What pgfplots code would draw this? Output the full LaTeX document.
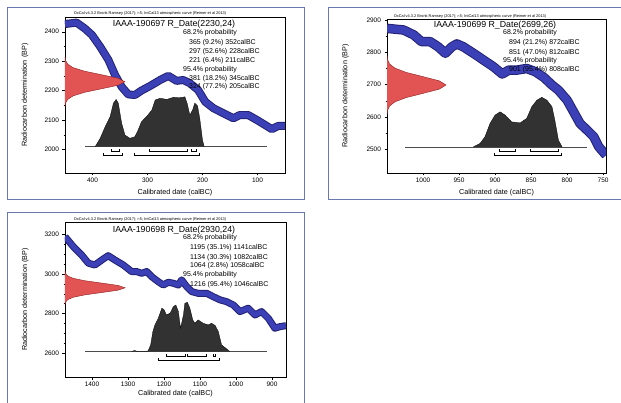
\documentclass[border=0pt]{standalone}
\usepackage{fontspec}
\setmainfont{Liberation Sans}
\usepackage{pgfplots}
\usepackage{pgfplotstable}
\pgfplotsset{compat=1.18}
\definecolor{bandblue}{RGB}{60,64,182}
\definecolor{bandedge}{RGB}{34,34,116}
\definecolor{redfill}{RGB}{226,84,84}
\definecolor{rededge}{RGB}{140,30,30}
\definecolor{postfill}{RGB}{50,50,50}
\definecolor{boxcol}{RGB}{105,120,175}
\newcommand{\tfont}{\fontsize{8.8}{10}\selectfont}
\newcommand{\pfont}{\fontsize{7}{8}\selectfont}
\newcommand{\hfont}{\fontsize{3.9}{4.5}\selectfont}

% ---------------- Panel 1 data ----------------
\pgfplotstableread{
x y
450 2426
429 2431
414 2411
401 2389
386 2349
371 2304
359 2253
347 2213
335 2187
323 2185
311 2200
295 2216
277 2236
262 2250
247 2233
235 2236
223 2225
208 2202
195 2162
180 2140
162 2123
144 2106
132 2117
117 2117
101 2100
86 2083
74 2069
62 2080
50 2080
}\curveA
\pgfplotstableread{
x y
450 2146
449.8 2146
448.8 2158
445.2 2170
435.3 2182
414.6 2194
383.9 2206
353.8 2218
341 2230
353.8 2242
383.9 2254
414.6 2266
435.3 2278
445.2 2290
448.8 2302
449.8 2314
450 2314
}\redA
\pgfplotstableread{
x y
395 2010
386 2038
377 2077
368 2111
362 2157
357 2170
353 2157
347 2089
341 2049
332 2038
323 2043
317 2066
311 2094
302 2111
292 2134
286 2168
277 2174
265 2170
253 2177
238 2176
232 2179
228 2157
223 2117
218 2134
214 2157
209 2148
205 2106
200 2032
197 2010
}\postA

% ---------------- Panel 2 data ----------------
\pgfplotstableread{
x y
1050 2874
1027 2869
1013 2854
1002 2833
990 2833
979 2817
969 2797
960 2817
953 2826
944 2817
930 2797
916 2776
902 2755
890 2733
881 2745
870 2745
856 2750
844 2740
832 2722
821 2699
812 2683
800 2652
791 2616
782 2580
772 2559
763 2539
756 2508
746 2482
}\curveB
\pgfplotstableread{
x y
1050 2608
1049.8 2608
1049.1 2621
1046.4 2634
1038.9 2647
1023.4 2660
1000.3 2673
977.6 2686
968 2699
977.6 2712
1000.3 2725
1023.4 2738
1038.9 2751
1046.4 2764
1049.1 2777
1049.8 2790
1050 2790
}\redB
\pgfplotstableread{
x y
930 2508
921 2518
914 2539
907 2580
900 2606
893 2616
886 2606
877 2585
865 2582
856 2596
849 2632
842 2652
835 2661
828 2652
821 2632
817 2590
812 2528
807 2508
}\postB

% ---------------- Panel 3 data ----------------
\pgfplotstableread{
x y
1475 3188
1452 3138
1429 3096
1410 3054
1392 3045
1373 3070
1355 3092
1336 3070
1313 3045
1290 3012
1276 3012
1262 3003
1248 3012
1234 2986
1216 2961
1202 2944
1188 2958
1174 2953
1160 2944
1151 2970
1137 2936
1123 2911
1105 2902
1081 2902
1063 2885
1044 2869
1026 2860
1007 2843
989 2810
966 2827
947 2793
929 2810
910 2776
892 2726
878 2734
861 2739
}\curveC
\pgfplotstableread{
x y
1475 2846
1474.6 2846
1473.2 2858
1467.7 2870
1452.4 2882
1420.8 2894
1373.7 2906
1327.6 2918
1308 2930
1327.6 2942
1373.7 2954
1420.8 2966
1452.4 2978
1467.7 2990
1473.2 3002
1474.6 3014
1475 3014
}\redC
\pgfplotstableread{
x y
1290 2608
1282 2614
1274 2609
1250 2609
1244 2612
1237 2642
1231 2709
1225 2743
1216 2776
1206 2827
1200 2820
1193 2793
1183 2802
1174 2835
1167 2843
1160 2810
1154 2726
1146 2793
1142 2852
1135 2857
1128 2827
1120 2768
1114 2751
1105 2768
1091 2751
1077 2743
1068 2751
1058 2740
1049 2709
1040 2642
1026 2622
1017 2608
}\postC

\pgfplotsset{
  oxcal/.style={
    scale only axis, anchor=south west, x dir=reverse,
    axis line style={line width=0.7pt},
    tick align=outside, xtick pos=left, ytick pos=left,
    major tick length=2.5pt, minor tick length=1.3pt,
    every tick/.style={black, line width=0.4pt},
    ticklabel style={font=\fontsize{6.5}{7}\selectfont},
    xticklabel style={yshift=1.5pt},
    /pgf/number format/assume math mode=true,
    /pgf/number format/1000 sep={},
    label style={font=\fontsize{7.2}{8}\selectfont},
    xlabel={Calibrated date (calBC)},
    ylabel={Radiocarbon determination (BP)},
  },
  bandout/.style={bandedge, line width=#1, line join=round, mark=none},
  bandin/.style={bandblue, line width=#1, line join=round, mark=none},
  redg/.style={fill=redfill, draw=rededge, line width=0.4pt, mark=none},
  post/.style={fill=postfill, draw=black, line width=0.3pt, mark=none},
  brk/.style={black, line width=0.5pt, mark=none},
  basel/.style={black!70, line width=0.4pt, mark=none},
}

\begin{document}
\begin{tikzpicture}[x=1pt,y=1pt]
\path[use as bounding box] (0,0) rectangle (621,402);
\draw[boxcol, line width=0.8pt] (7,203) rectangle (304,395);
\draw[boxcol, line width=0.8pt] (622,395) -- (328,395) -- (328,203) -- (622,203);
\draw[boxcol, line width=0.8pt] (7,-2) -- (7,190) -- (304,190) -- (304,-2);

% ================= Panel 1 =================
\begin{axis}[oxcal, at={(65pt,229pt)}, width=220pt, height=156pt,
  xmin=50, xmax=450, ymin=1920, ymax=2450,
  xtick={100,200,300,400}, ytick={2000,2100,2200,2300,2400},
  minor x tick num=4, minor y tick num=1,
  xlabel style={at={(axis description cs:0.5,-0.128)}, anchor=center},
  ylabel style={at={(axis description cs:-0.182,0.5)}, anchor=center},
]
\addplot[bandout=8pt] table {\curveA};
\addplot[bandin=6pt] table {\curveA};
\addplot[redg] table {\redA};
\addplot[basel] coordinates {(414,2010) (83,2010)};
\addplot[post] table {\postA};
\addplot[brk] coordinates {(365,2002) (365,1995) (352,1995) (352,2002)};
\addplot[brk] coordinates {(297,2002) (297,1995) (228,1995) (228,2002)};
\addplot[brk] coordinates {(221,2002) (221,1995) (211,1995) (211,2002)};
\addplot[brk] coordinates {(381,1988) (381,1981) (346,1981) (346,1988)};
\addplot[brk] coordinates {(324,1988) (324,1981) (205,1981) (205,1988)};
\end{axis}
\node[font=\hfont, anchor=south, inner sep=0pt] at (150,386) {OxCal v4.3.2 Bronk Ramsey (2017); r:5; IntCal13 atmospheric curve (Reimer et al 2013)};
\node[font=\tfont, inner sep=0pt] at (174,378) {IAAA-190697 R\_Date(2230,24)};
\node[font=\pfont, anchor=west, inner sep=0pt] at (183,369) {68.2\% probability};
\node[font=\pfont, anchor=west, inner sep=0pt] at (189,359.5) {365 (9.2\%) 352calBC};
\node[font=\pfont, anchor=west, inner sep=0pt] at (189,350.5) {297 (52.6\%) 228calBC};
\node[font=\pfont, anchor=west, inner sep=0pt] at (189,341) {221 (6.4\%) 211calBC};
\node[font=\pfont, anchor=west, inner sep=0pt] at (183,332.5) {95.4\% probability};
\node[font=\pfont, anchor=west, inner sep=0pt] at (189,323.5) {381 (18.2\%) 345calBC};
\node[font=\pfont, anchor=west, inner sep=0pt] at (189,315) {324 (77.2\%) 205calBC};

% ================= Panel 2 =================
\begin{axis}[oxcal, at={(387pt,229pt)}, width=219pt, height=154pt,
  xmin=746, xmax=1050, ymin=2427, ymax=2903,
  xtick={750,800,850,900,950,1000}, ytick={2500,2600,2700,2800,2900},
  minor x tick num=4, minor y tick num=1,
  xlabel style={at={(axis description cs:0.5,-0.13)}, anchor=center},
  ylabel style={at={(axis description cs:-0.19,0.5)}, anchor=center},
]
\addplot[bandout=9.5pt] table {\curveB};
\addplot[bandin=7.5pt] table {\curveB};
\addplot[redg] table {\redB};
\addplot[basel] coordinates {(1025,2508) (773,2508)};
\addplot[post] table {\postB};
\addplot[brk] coordinates {(894,2500) (894,2494) (872,2494) (872,2500)};
\addplot[brk] coordinates {(851,2500) (851,2494) (812,2494) (812,2500)};
\addplot[brk] coordinates {(901,2488) (901,2482) (808,2482) (808,2488)};
\end{axis}
\node[font=\hfont, anchor=south, inner sep=0pt] at (470,383) {OxCal v4.3.2 Bronk Ramsey (2017); r:5; IntCal13 atmospheric curve (Reimer et al 2013)};
\node[font=\tfont, inner sep=0pt] at (495,377) {IAAA-190699 R\_Date(2699,26)};
\node[font=\pfont, anchor=west, inner sep=0pt] at (503,369.3) {68.2\% probability};
\node[font=\pfont, anchor=west, inner sep=0pt] at (509,359.3) {894 (21.2\%) 872calBC};
\node[font=\pfont, anchor=west, inner sep=0pt] at (509,349.7) {851 (47.0\%) 812calBC};
\node[font=\pfont, anchor=west, inner sep=0pt] at (503,341) {95.4\% probability};
\node[font=\pfont, anchor=west, inner sep=0pt] at (509,332) {901 (95.4\%) 808calBC};

% ================= Panel 3 =================
\begin{axis}[oxcal, at={(65pt,25pt)}, width=221pt, height=155pt,
  xmin=861, xmax=1475, ymin=2480, ymax=3262,
  xtick={900,1000,1100,1200,1300,1400}, ytick={2600,2800,3000,3200},
  minor x tick num=4, minor y tick num=3,
  xlabel style={at={(axis description cs:0.5,-0.11)}, anchor=center},
  ylabel style={at={(axis description cs:-0.18,0.5)}, anchor=center},
]
\addplot[bandout=7pt] table {\curveC};
\addplot[bandin=5pt] table {\curveC};
\addplot[redg] table {\redC};
\addplot[basel] coordinates {(1419,2608) (915,2608)};
\addplot[post] table {\postC};
\addplot[brk] coordinates {(1195,2596) (1195,2586) (1141,2586) (1141,2596)};
\addplot[brk] coordinates {(1134,2596) (1134,2586) (1082,2586) (1082,2596)};
\addplot[brk] coordinates {(1064,2596) (1064,2586) (1058,2586) (1058,2596)};
\addplot[brk] coordinates {(1216,2576) (1216,2566) (1046,2566) (1046,2576)};
\end{axis}
\node[font=\hfont, anchor=south, inner sep=0pt] at (150,180.5) {OxCal v4.3.2 Bronk Ramsey (2017); r:5; IntCal13 atmospheric curve (Reimer et al 2013)};
\node[font=\tfont, inner sep=0pt] at (174,172) {IAAA-190698 R\_Date(2930,24)};
\node[font=\pfont, anchor=west, inner sep=0pt] at (183,164.3) {68.2\% probability};
\node[font=\pfont, anchor=west, inner sep=0pt] at (190,154.3) {1195 (35.1\%) 1141calBC};
\node[font=\pfont, anchor=west, inner sep=0pt] at (190,144.7) {1134 (30.3\%) 1082calBC};
\node[font=\pfont, anchor=west, inner sep=0pt] at (190,136.3) {1064 (2.8\%) 1058calBC};
\node[font=\pfont, anchor=west, inner sep=0pt] at (183,127) {95.4\% probability};
\node[font=\pfont, anchor=west, inner sep=0pt] at (190,117.7) {1216 (95.4\%) 1046calBC};
\end{tikzpicture}
\end{document}
